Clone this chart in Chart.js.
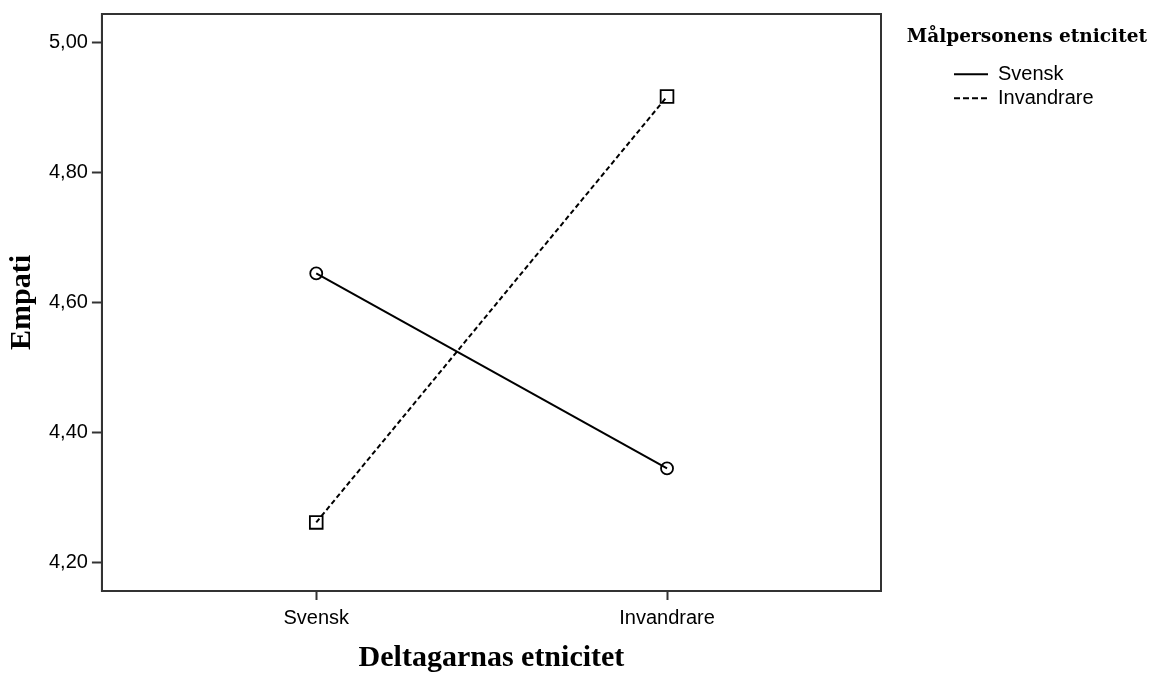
<!DOCTYPE html>
<html>
<head>
<meta charset="utf-8">
<script src="https://cdn.jsdelivr.net/npm/chart.js@4"></script>
<style>
  html, body { margin: 0; padding: 0; background: #fff; }
  #wrap { width: 1154px; height: 673px; position: relative; }
</style>
</head>
<body>
<div id="wrap"><canvas id="c" width="1154" height="673"></canvas></div>
<script>
// Categories on the x axis (Deltagarnas etnicitet)
const categories = ["Svensk", "Invandrare"];
// Series (Målpersonens etnicitet)
const seriesNames = ["Svensk", "Invandrare"];
const svenskValues = [4.645, 4.345];
const invandrareValues = [4.262, 4.917];
// Y tick values
const yTicks = [4.20, 4.40, 4.60, 4.80, 5.00];

const xTitle = "Deltagarnas etnicitet";
const yTitle = "Empati";
const legendTitle = "Målpersonens etnicitet";

function toPoints(vals) { return vals.map((v, i) => ({ x: i, y: v })); }

const LEGEND_TOTAL_W = 266;   // legend box width reserved right of plot
const LEGEND_ITEMS_W = 197;   // width of the item column (title right aligned)

const frame = {
  id: 'frame',
  beforeLayout(chart) {
    const lg = chart.legend;
    if (lg && !lg._wrapped) {
      const f = lg.fit;
      lg.fit = function () { f.call(this); this.width = LEGEND_TOTAL_W; };
      const d = lg._draw;
      lg._draw = function () {
        const L = this.left, W = this.width;
        this.left = this.right - LEGEND_ITEMS_W;
        this.width = LEGEND_ITEMS_W;
        d.call(this);
        this.left = L; this.width = W;
      };
      lg._wrapped = true;
    }
  },
  afterDatasetsDraw(chart) {
    const { ctx, chartArea: a } = chart;
    ctx.save();
    ctx.strokeStyle = '#333';
    ctx.lineWidth = 2;
    ctx.strokeRect(a.left, a.top, a.right - a.left, a.bottom - a.top);
    ctx.restore();
  }
};

new Chart(document.getElementById('c'), {
  type: 'line',
  data: {
    datasets: [
      {
        label: seriesNames[0],
        data: toPoints(svenskValues),
        borderColor: '#000',
        borderWidth: 2,
        pointStyle: 'circle',
        pointRadius: 6,
        pointBorderWidth: 1.8,
        pointBackgroundColor: 'rgba(0,0,0,0)',
        pointBorderColor: '#000',
        fill: false
      },
      {
        label: seriesNames[1],
        data: toPoints(invandrareValues),
        borderColor: '#000',
        borderWidth: 2,
        borderDash: [5, 3],
        pointStyle: 'rect',
        pointRadius: 9,
        pointBorderWidth: 1.8,
        pointBackgroundColor: 'rgba(0,0,0,0)',
        pointBorderColor: '#000',
        fill: false
      }
    ]
  },
  options: {
    responsive: false,
    animation: false,
    devicePixelRatio: 1,
    layout: { padding: { left: 5, right: 7, top: 13, bottom: 0 } },
    plugins: {
      tooltip: { enabled: false },
      legend: {
        position: 'right',
        align: 'start',
        title: {
          display: true,
          text: legendTitle,
          color: '#000',
          position: 'end',
          font: { family: 'DejaVu Serif', weight: 'bold', size: 18.5, lineHeight: 1.2 },
          padding: { top: 15, bottom: 10 }
        },
        labels: {
          color: '#000',
          font: { family: 'Liberation Sans', size: 20 },
          usePointStyle: true,
          pointStyle: 'line',
          pointStyleWidth: 34,
          boxHeight: 20,
          padding: 4,
          generateLabels(chart) {
            const items = Chart.defaults.plugins.legend.labels.generateLabels(chart);
            items.forEach(it => {
              const ds = chart.data.datasets[it.datasetIndex];
              it.lineDash = ds.borderDash ? [6, 3] : [];
              it.lineWidth = 2;
              it.strokeStyle = '#000';
              it.fillStyle = '#000';
            });
            return items;
          }
        }
      }
    },
    scales: {
      x: {
        type: 'linear',
        min: -0.611,
        max: 1.610,
        afterBuildTicks(scale) { scale.ticks = categories.map((c, i) => ({ value: i })); },
        ticks: {
          color: '#000',
          font: { family: 'Liberation Sans', size: 20 },
          padding: 6,
          maxRotation: 0,
          callback: (v) => categories[v] !== undefined ? categories[v] : ''
        },
        grid: { drawOnChartArea: false, drawTicks: true, tickLength: 9, tickColor: '#333', tickWidth: 2 },
        border: { display: true, color: '#333', width: 2 },
        title: {
          display: true,
          text: xTitle,
          color: '#000',
          font: { family: 'Liberation Serif', weight: 'bold', size: 30, lineHeight: 1 },
          padding: { top: 7, bottom: 0 }
        }
      },
      y: {
        type: 'linear',
        min: 4.1565,
        max: 5.044,
        afterBuildTicks(scale) { scale.ticks = yTicks.map(v => ({ value: v })); },
        ticks: {
          color: '#000',
          font: { family: 'Liberation Sans', size: 20, lineHeight: 1 },
          padding: 4,
          callback: (v) => v.toFixed(2).replace('.', ',')
        },
        grid: { drawOnChartArea: false, drawTicks: true, tickLength: 10, tickColor: '#333', tickWidth: 2 },
        border: { display: true, color: '#333', width: 2 },
        title: {
          display: true,
          text: yTitle,
          color: '#000',
          font: { family: 'Liberation Serif', weight: 'bold', size: 30, lineHeight: 1 },
          padding: { top: 2, bottom: 8 }
        }
      }
    }
  },
  plugins: [frame]
});
</script>
</body>
</html>
